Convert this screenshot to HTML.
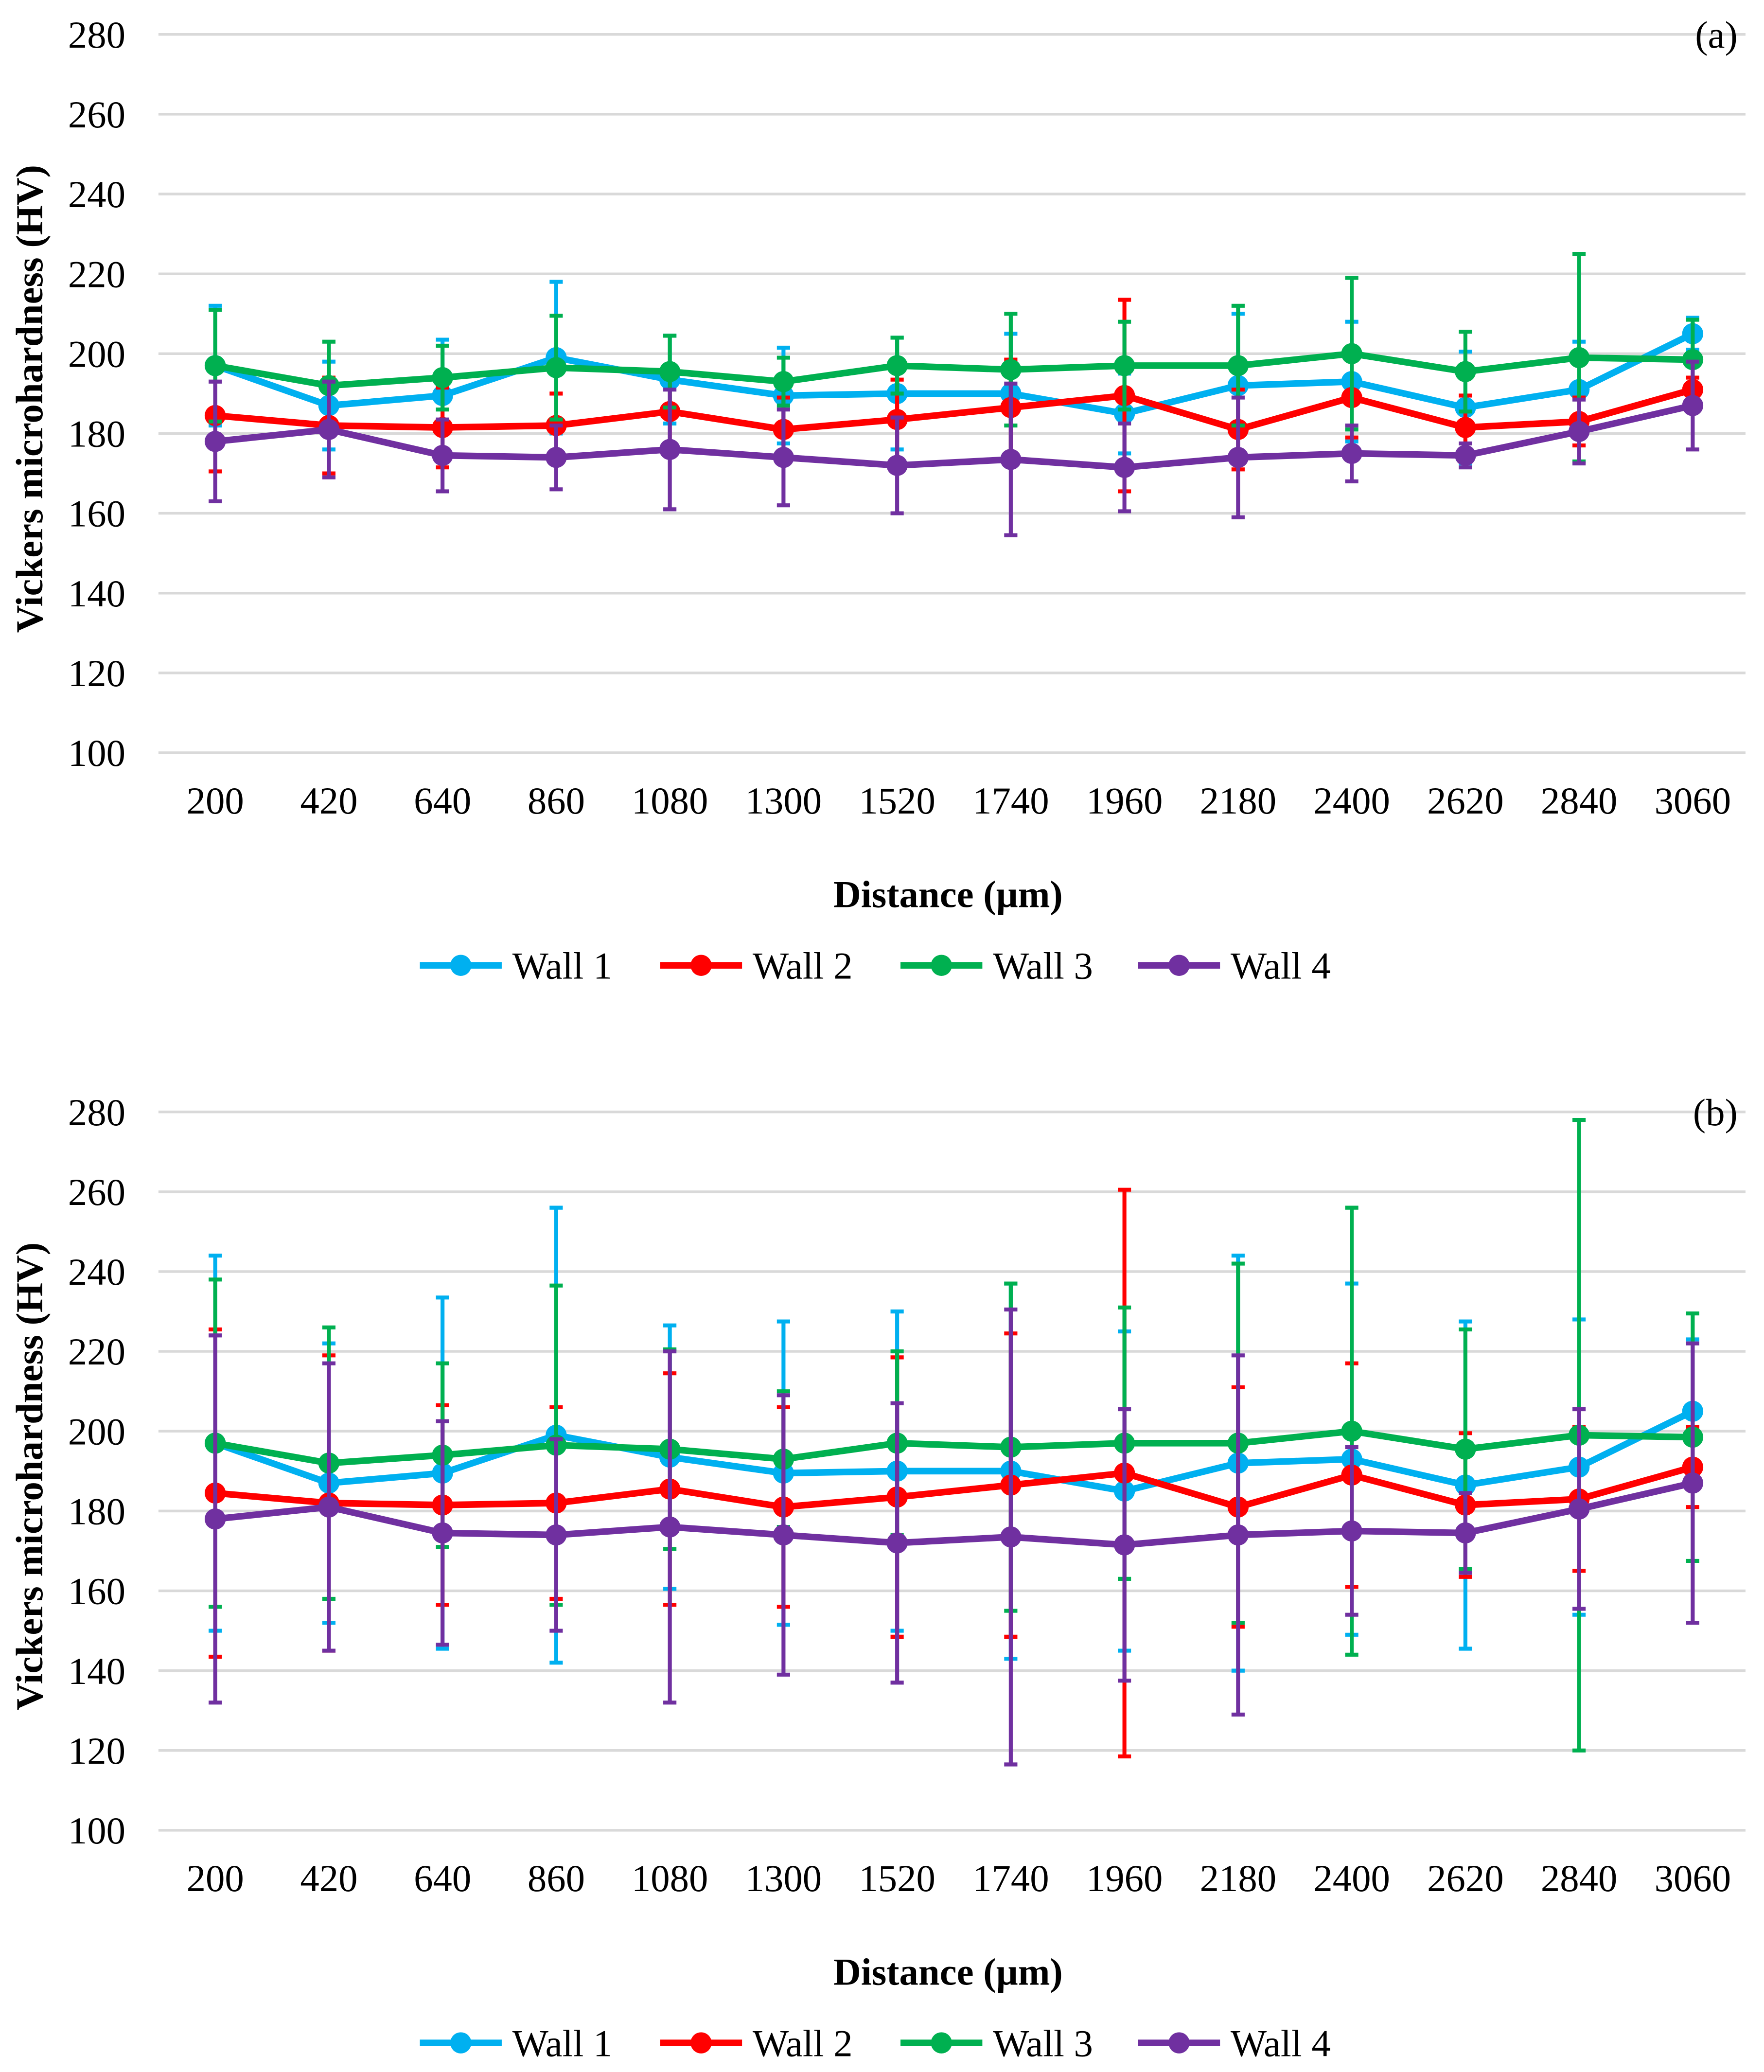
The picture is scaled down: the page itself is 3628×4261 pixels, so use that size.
<!DOCTYPE html>
<html><head><meta charset="utf-8"><style>
html,body{margin:0;padding:0;background:#fff}
svg{display:block}
text{font-family:"Liberation Serif",serif;fill:#000}
</style></head><body>
<svg id="chart" width="3628" height="4261" viewBox="0 0 1336 1569" xmlns="http://www.w3.org/2000/svg"></svg>
<script>
const categories=[200,420,640,860,1080,1300,1520,1740,1960,2180,2400,2620,2840,3060];
const yTicks=[100,120,140,160,180,200,220,240,260,280];
const seriesNames=["Wall 1","Wall 2","Wall 3","Wall 4"];
const seriesColors=["#00b0f0","#ff0000","#00b050","#7030a0"];
const wall1=[197,187,189.5,199,193.5,189.5,190,190,185,192,193,186.5,191,205];
const wall2=[184.5,182,181.5,182,185.5,181,183.5,186.5,189.5,181,189,181.5,183,191];
const wall3=[197,192,194,196.5,195.5,193,197,196,197,197,200,195.5,199,198.5];
const wall4=[178,181,174.5,174,176,174,172,173.5,171.5,174,175,174.5,180.5,187];
const errA1=[15,11,14,19,11,12,14,15,10,18,15,14,12,4];
const errA2=[14,12,10,8,10,8,10,12,24,10,10,8,6,3];
const errA3=[14,11,8,13,9,6,7,14,11,15,19,10,26,10];
const errA4=[15,12,9,8,15,12,12,19,11,15,7,3,8,11];
const errB1=[47,35,44,57,33,38,40,47,40,52,44,41,37,18];
const errB2=[41,37,25,24,29,25,35,38,71,30,28,18,18,10];
const errB3=[41,34,23,40,25,17,23,41,34,45,56,30,79,31];
const errB4=[46,36,28,24,44,35,35,57,34,45,21,10,25,35];

const NS="http://www.w3.org/2000/svg";
const svg=document.getElementById('chart');
const FS=29;
function mk(tag,attrs,parent,txt){const e=document.createElementNS(NS,tag);for(const k in attrs)e.setAttribute(k,attrs[k]);if(txt!==undefined)e.textContent=txt;parent.appendChild(e);return e;}

function panel(top,label,errs,pname){
  const g=mk('g',{},svg);
  
  
  const y=v=>top+(280-v)*(544/180);
  const x=i=>163+i*(1282-163)/13;
  yTicks.forEach(t=>{
    const l=mk('line',{x1:120,x2:1322,y1:y(t),y2:y(t),stroke:'#d9d9d9','stroke-width':2},g);
    
    
    const tx=mk('text',{x:95,y:y(t)+10,'text-anchor':'end','font-size':FS},g,t);
    
    
  });
  categories.forEach((c,i)=>{
    const tx=mk('text',{x:x(i),y:top+590,'text-anchor':'middle','font-size':FS},g,c);
    
    
  });
  const yt=mk('text',{x:0,y:0,'text-anchor':'middle','font-size':FS,'font-weight':'bold',transform:`translate(32,${top+276}) rotate(-90)`},g,'Vickers microhardness (HV)');
  
  
  const xt=mk('text',{x:718,y:top+661,'text-anchor':'middle','font-size':FS,'font-weight':'bold'},g,'Distance (µm)');
  
  
  const pl=mk('text',{x:1316,y:top+10,'text-anchor':'end','font-size':FS},g,label);
  
  
  const vals=[wall1,wall2,wall3,wall4];
  vals.forEach((arr,s)=>{
    const col=seriesColors[s];
    const sg=mk('g',{},g);
    
    
    arr.forEach((v,i)=>{
      const e=errs[s][i],cx=x(i);
      const p=mk('path',{d:`M${cx},${y(v+e)}V${y(v-e)}M${cx-5},${y(v+e)}H${cx+5}M${cx-5},${y(v-e)}H${cx+5}`,stroke:col,'stroke-width':3,fill:'none'},sg);
      
      
    });
    const pts=arr.map((v,i)=>x(i)+','+y(v)).join(' ');
    const pline=mk('polyline',{points:pts,stroke:col,'stroke-width':5,fill:'none','stroke-linejoin':'round'},sg);
    
    
    arr.forEach((v,i)=>{
      const c=mk('circle',{cx:x(i),cy:y(v),r:8,fill:col},sg);
      
      
    });
  });
  const lx=[318,500,682,862];
  seriesNames.forEach((n,s)=>{
    const lg=mk('g',{},g);
    
    
    const ly=top+705;
    mk('line',{x1:lx[s],x2:lx[s]+62,y1:ly,y2:ly,stroke:seriesColors[s],'stroke-width':5},lg);
    mk('circle',{cx:lx[s]+31,cy:ly,r:8,fill:seriesColors[s]},lg);
    mk('text',{x:lx[s]+70,y:ly+10,'font-size':FS},lg,n);
  });
}
panel(26,'(a)',[errA1,errA2,errA3,errA4],'panel-a');
panel(842,'(b)',[errB1,errB2,errB3,errB4],'panel-b');
</script>
</body></html>
